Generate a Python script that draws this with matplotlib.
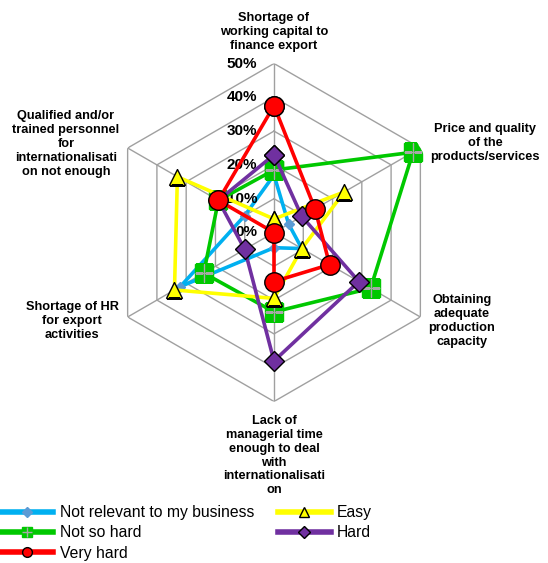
import numpy as np
import matplotlib.pyplot as plt
from matplotlib.legend_handler import HandlerTuple
import copy

plt.rcParams['font.family'] = ['Liberation Sans', 'DejaVu Sans']

# categorie, in senso orario partendo dall'alto
categorie = [
    "Shortage of\nworking capital to\nfinance export",
    "Price and quality\nof the\nproducts/services",
    "Obtaining\nadequate\nproduction\ncapacity",
    "Lack of\nmanagerial time\nenough to deal\nwith\ninternationalisati\non",
    "Shortage of HR\nfor export\nactivities",
    "Qualified and/or\ntrained personnel\nfor\ninternationalisati\non not enough",
]

# percentuali per livello di difficolta
not_relevant = [17, 5, 9.5, 4.5, 32, 10]
easy = [4, 24, 9.5, 19.5, 34, 33]
not_so_hard = [18.5, 47.5, 33, 23.5, 24, 19]
hard = [23, 9.5, 29, 38, 10, 19]
very_hard = [37.5, 14, 19, 14.5, 0, 19]

tacche = [0, 10, 20, 30, 40, 50]

# offset (punti) delle etichette rispetto all'estremo di ogni asse
offset_etichette = [(0, 22.7), (46.5, 3.6), (30, -2.9), (0, -39), (-40, -2.9), (-44.4, 2.9)]

fig = plt.figure(figsize=(5.48, 5.63), dpi=100)
cx, cy, rad = 274 / 548, 1 - 232.5 / 563, 169
ax = fig.add_axes([cx - rad / 548, cy - rad / 563, 2 * rad / 548, 2 * rad / 563], projection='polar')
ax.set_theta_offset(np.pi / 2)
ax.set_theta_direction(-1)
ax.set_ylim(0, 50)
ax.grid(False)
ax.set_xticks([])
ax.set_yticks([])
ax.spines['polar'].set_visible(False)
ax.patch.set_visible(False)

n = len(categorie)
angoli = np.arange(n) * 2 * np.pi / n
angoli_chiusi = np.append(angoli, angoli[0])

# griglia esagonale
grigio = '#A0A0A0'
for r in tacche[1:]:
    ax.plot(angoli_chiusi, [r] * (n + 1), color=grigio, lw=1, zorder=1)
for a in angoli:
    ax.plot([a, a], [0, tacche[-1]], color=grigio, lw=1, zorder=1)

# etichette percentuali sull'asse verticale
for t in tacche:
    ax.annotate("{}%".format(t), xy=(0, t), xytext=(-12, 0), textcoords='offset points',
                ha='right', va='center', fontsize=11, fontweight='bold', annotation_clip=False)

for a, nome, off in zip(angoli, categorie, offset_etichette):
    ax.annotate(nome, xy=(a, tacche[-1]), xytext=off, textcoords='offset points',
                ha='center', va='center', fontsize=9.2, fontweight='bold',
                linespacing=1.2, annotation_clip=False)


def chiudi(v):
    return list(v) + [v[0]]


lw = 2.6
l_nr, = ax.plot(angoli_chiusi, chiudi(not_relevant), color='#00B0F0', lw=lw,
                marker='D', ms=5, mfc='#5B9BD5', mec='#5B9BD5', zorder=2)
l_ns, = ax.plot(angoli_chiusi, chiudi(not_so_hard), color='#00C800', lw=lw,
                marker='s', ms=13, mfc='#00C800', mec='#00C800', zorder=3)
p_ns, = ax.plot(angoli, not_so_hard, ls='none', marker='+', ms=13, mec='#A8A8A8',
                mew=1, zorder=3)
l_ea, = ax.plot(angoli_chiusi, chiudi(easy), color='#FFFF00', lw=lw,
                marker='^', ms=12, mfc='#FFFF00', mec='black', mew=1, zorder=4)
l_ha, = ax.plot(angoli_chiusi, chiudi(hard), color='#7030A0', lw=lw,
                marker='D', ms=10, mfc='#7030A0', mec='black', mew=1, zorder=5)
l_vh, = ax.plot(angoli_chiusi, chiudi(very_hard), color='#FF0000', lw=lw,
                marker='o', ms=14, mfc='#FF0000', mec='black', mew=1, zorder=6)


# legenda: marker piu piccoli e linee piu spesse
def mini(linea, ms):
    h = copy.copy(linea)
    h.set_markersize(ms)
    h.set_linewidth(4)
    return h


h_nr = mini(l_nr, 5)
h_ns = mini(l_ns, 7)
h_ns_p = mini(p_ns, 7)
h_vh = mini(l_vh, 7)
h_ea = mini(l_ea, 7)
h_ha = mini(l_ha, 6)

fig.legend([h_nr, (h_ns, h_ns_p), h_vh, h_ea, h_ha],
           ['Not relevant to my business', 'Not so hard', 'Very hard', 'Easy', 'Hard'],
           handler_map={tuple: HandlerTuple(ndivide=1, pad=0)},
           loc='upper left', bbox_to_anchor=(0, 1 - 505 / 563), ncol=2, frameon=False,
           fontsize=11.3, handlelength=3.4, handletextpad=0.4, columnspacing=1.5,
           labelspacing=0.35, borderpad=0, borderaxespad=0)

fig.savefig('out.png', dpi=100)
